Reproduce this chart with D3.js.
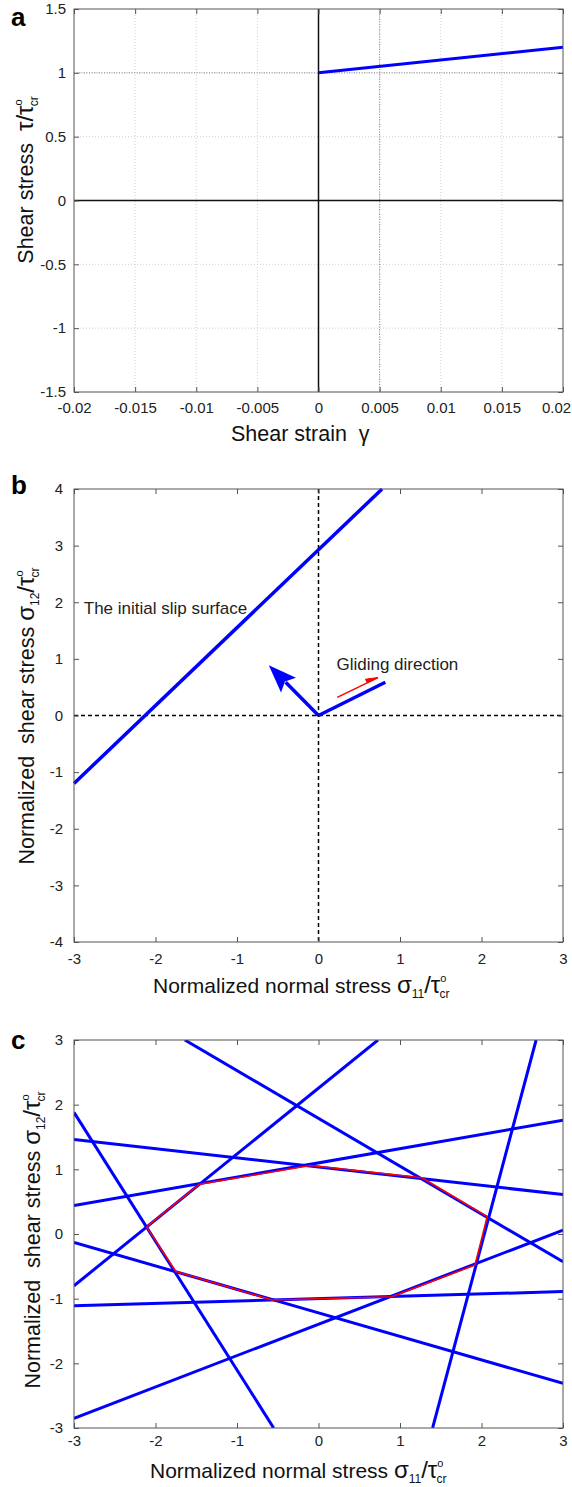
<!DOCTYPE html>
<html><head><meta charset="utf-8">
<script src="https://cdn.jsdelivr.net/npm/d3@7"></script>
<style>body{margin:0;background:#fff} text{font-family:Arial,"Liberation Sans",Helvetica,sans-serif;white-space:pre}</style>
</head><body><svg id="chart" width="572" height="1487"></svg>
<script>
// ---------- Panel a data ----------
const aXTicks = [-0.02, -0.015, -0.01, -0.005, 0, 0.005, 0.01, 0.015, 0.02];
const aYTicks = [-1.5, -1, -0.5, 0, 0.5, 1, 1.5];
const aStrain = [0, 0.02];
const aStress = [1, 1.2];
const aRefStress = 1;
const aRefStrain = 0.005;
// ---------- Panel b data ----------
const bXTicks = [-3, -2, -1, 0, 1, 2, 3];
const bYTicks = [-4, -3, -2, -1, 0, 1, 2, 3, 4];
const bSlipX = [-3, 0.78];
const bSlipY = [-1.2, 4];
const bNormalX = [0, -0.61];
const bNormalY = [0, 0.887];
const bGlideX = [0, 0.82];
const bGlideY = [0, 0.587];
const bRedX = [0.23, 0.73];
const bRedY = [0.32, 0.67];
const bSlipText = {x: -2.88, y: 1.8, label: "The initial slip surface"};
const bGlideText = {x: 0.22, y: 0.8, label: "Gliding direction"};
// ---------- Panel c data ----------
const cXTicks = [-3, -2, -1, 0, 1, 2, 3];
const cYTicks = [-3, -2, -1, 0, 1, 2, 3];
const cLineX1 = [-1.64, -3, -3, -3, -3, 1.40, -3, -3, -3];
const cLineY1 = [3, -0.80, 1.88, 1.46, 0.44, -3, -0.13, -1.11, -2.85];
const cLineX2 = [3, 0.73, -0.55, 3, 3, 2.67, 3, 3, 3];
const cLineY2 = [-0.43, 3, -3, 0.61, 1.76, 3, -2.31, -0.89, 0.06];
const cYieldX = [-2.11, -1.46, -0.10, 1.27, 2.07, 1.92, 0.90, -0.57, -1.75, -2.11];
const cYieldY = [0.11, 0.77, 1.06, 0.87, 0.27, -0.48, -0.97, -1.02, -0.58, 0.11];

const svg = d3.select("#chart");
const BLUE = "#0000ff";
const fmt = d => (d < 0 ? "-" : "") + String(Math.abs(+d.toFixed(4)));

function makeAxes(box, xd, yd, xt, yt, padB, padL) {
  const x = d3.scaleLinear().domain(xd).range([box.l, box.r]);
  const y = d3.scaleLinear().domain(yd).range([box.b, box.t]);
  const draw = () => {
    const g = svg.append("g");
    const gb = g.append("g").attr("transform", `translate(0,${box.b})`)
      .call(d3.axisBottom(x).tickValues(xt).tickSizeInner(-5).tickSizeOuter(0).tickPadding(padB).tickFormat(fmt));
    g.append("g").attr("transform", `translate(0,${box.t})`)
      .call(d3.axisTop(x).tickValues(xt).tickSizeInner(-5).tickSizeOuter(0).tickFormat(""));
    g.append("g").attr("transform", `translate(${box.l},0)`)
      .call(d3.axisLeft(y).tickValues(yt).tickSizeInner(-5).tickSizeOuter(0).tickPadding(padL).tickFormat(fmt));
    g.append("g").attr("transform", `translate(${box.r},0)`)
      .call(d3.axisRight(y).tickValues(yt).tickSizeInner(-5).tickSizeOuter(0).tickFormat(""));
    g.selectAll(".domain").remove();
    g.selectAll(".tick line").attr("stroke", "#555");
    g.selectAll(".tick text").attr("font-size", 15).attr("fill", "#222")
      .attr("font-family", "Arial, 'Liberation Sans', sans-serif");
    g.append("rect").attr("x", box.l).attr("y", box.t).attr("width", box.r - box.l).attr("height", box.b - box.t)
      .attr("fill", "none").attr("stroke", "#555").attr("stroke-width", 1);
    return gb;
  };
  return {x, y, draw};
}

function richLabel(t, prefix, sym, sub) {
  t.append("tspan").text(prefix);
  t.append("tspan").attr("font-size", 24).text(sym);
  if (sub) t.append("tspan").attr("font-size", 12).attr("dy", 5).text(sub);
  t.append("tspan").attr("dy", sub ? -5 : 0).attr("font-size", 24).text("/τ");
  t.append("tspan").attr("font-size", 11).attr("dy", -11).text("o");
  t.append("tspan").attr("font-size", 12).attr("dx", -7).attr("dy", 16).text("cr");
}

function letter(txt, yb) {
  svg.append("text").attr("x", 11).attr("y", yb).attr("font-size", 26).attr("font-weight", "bold").attr("fill", "#000").text(txt);
}

// ================= Panel a =================
{
  const box = {l: 74, r: 563, t: 9, b: 392};
  const A = makeAxes(box, [-0.02, 0.02], [-1.5, 1.5], aXTicks, aYTicks, 10, 8);
  const {x, y} = A;
  const grid = svg.append("g").attr("stroke", "#d0d0d0").attr("stroke-width", 1).attr("stroke-dasharray", "1,2");
  aXTicks.slice(1, -1).forEach(v => grid.append("line").attr("x1", x(v)).attr("x2", x(v)).attr("y1", box.t).attr("y2", box.b));
  aYTicks.slice(1, -1).forEach(v => grid.append("line").attr("x1", box.l).attr("x2", box.r).attr("y1", y(v)).attr("y2", y(v)));
  const ref = svg.append("g").attr("stroke", "#888").attr("stroke-width", 1).attr("stroke-dasharray", "1,1.5");
  ref.append("line").attr("x1", box.l).attr("x2", box.r).attr("y1", y(aRefStress)).attr("y2", y(aRefStress));
  ref.append("line").attr("x1", x(aRefStrain)).attr("x2", x(aRefStrain)).attr("y1", box.t).attr("y2", box.b);
  svg.append("line").attr("x1", box.l).attr("x2", box.r).attr("y1", y(0)).attr("y2", y(0)).attr("stroke", "#111").attr("stroke-width", 1.5);
  svg.append("line").attr("x1", x(0)).attr("x2", x(0)).attr("y1", box.t).attr("y2", box.b).attr("stroke", "#111").attr("stroke-width", 1.5);
  svg.append("path").datum(aStrain.map((d, i) => [d, aStress[i]]))
    .attr("d", d3.line().x(d => x(d[0])).y(d => y(d[1]))).attr("fill", "none").attr("stroke", BLUE).attr("stroke-width", 3);
  const gb = A.draw();
  gb.selectAll(".tick text").filter(d => d === 0.02).attr("dx", -7);
  svg.append("text").attr("x", 231).attr("y", 441).attr("font-size", 21.5).attr("fill", "#111").text("Shear strain  γ");
  const yl = svg.append("text").attr("transform", "translate(33,180) rotate(-90)").attr("text-anchor", "middle").attr("font-size", 21.5).attr("fill", "#111");
  richLabel(yl, "Shear stress  ", "τ", null);
  letter("a", 26);
}

// ================= Panel b =================
{
  const box = {l: 74, r: 563, t: 489, b: 942};
  const B = makeAxes(box, [-3, 3], [-4, 4], bXTicks, bYTicks, 11, 11);
  const {x, y} = B;
  const dash = svg.append("g").attr("stroke", "#000").attr("stroke-width", 1.5).attr("stroke-dasharray", "4,3");
  dash.append("line").attr("x1", x(0)).attr("x2", x(0)).attr("y1", box.t).attr("y2", box.b);
  dash.append("line").attr("x1", box.l).attr("x2", box.r).attr("y1", y(0)).attr("y2", y(0));
  const line = d3.line().x(d => x(d[0])).y(d => y(d[1]));
  svg.append("path").datum(bSlipX.map((d, i) => [d, bSlipY[i]])).attr("d", line)
    .attr("fill", "none").attr("stroke", BLUE).attr("stroke-width", 3.5);
  svg.append("path").datum(bGlideX.map((d, i) => [d, bGlideY[i]])).attr("d", line)
    .attr("fill", "none").attr("stroke", BLUE).attr("stroke-width", 3.5);
  // normal arrow
  const p0 = [x(bNormalX[0]), y(bNormalY[0])], p1 = [x(bNormalX[1]), y(bNormalY[1])];
  const dx = p1[0] - p0[0], dy = p1[1] - p0[1], L = Math.hypot(dx, dy);
  const ux = dx / L, uy = dy / L, hl = 28, hw = 10.5;
  const base = [p1[0] - ux * hl, p1[1] - uy * hl];
  svg.append("line").attr("x1", p0[0]).attr("y1", p0[1]).attr("x2", base[0] + ux * 4).attr("y2", base[1] + uy * 4)
    .attr("stroke", BLUE).attr("stroke-width", 3.5);
  svg.append("polygon").attr("points", [p1, [base[0] - uy * hw, base[1] + ux * hw], [base[0] + ux * 5, base[1] + uy * 5], [base[0] + uy * hw, base[1] - ux * hw]].map(p => p.join(",")).join(" "))
    .attr("fill", BLUE);
  // red gliding arrow
  const r0 = [x(bRedX[0]), y(bRedY[0])], r1 = [x(bRedX[1]), y(bRedY[1])];
  const rdx = r1[0] - r0[0], rdy = r1[1] - r0[1], rL = Math.hypot(rdx, rdy);
  const rux = rdx / rL, ruy = rdy / rL;
  svg.append("line").attr("x1", r0[0]).attr("y1", r0[1]).attr("x2", r1[0]).attr("y2", r1[1]).attr("stroke", "#ff0000").attr("stroke-width", 1.5);
  const rb = [r1[0] - rux * 12, r1[1] - ruy * 12];
  svg.append("polygon").attr("points", [r1, [rb[0] + ruy * 4, rb[1] - rux * 4], [rb[0], rb[1]]].map(p => p.join(",")).join(" "))
    .attr("fill", "#ff0000").attr("stroke", "#ff0000").attr("stroke-width", 1);
  svg.append("text").attr("x", x(bSlipText.x)).attr("y", y(bSlipText.y)).attr("font-size", 17).attr("fill", "#222").text(bSlipText.label);
  svg.append("text").attr("x", x(bGlideText.x)).attr("y", y(bGlideText.y)).attr("font-size", 17).attr("fill", "#222").text(bGlideText.label);
  B.draw();
  const xl = svg.append("text").attr("x", 153).attr("y", 993).attr("font-size", 21).attr("fill", "#111");
  richLabel(xl, "Normalized normal stress ", "σ", "11");
  const yl = svg.append("text").attr("transform", "translate(34,716) rotate(-90)").attr("text-anchor", "middle").attr("font-size", 21.5).attr("fill", "#111");
  richLabel(yl, "Normalized  shear stress ", "σ", "12");
  letter("b", 494);
}

// ================= Panel c =================
{
  const box = {l: 74, r: 563, t: 1040, b: 1428};
  const C = makeAxes(box, [-3, 3], [-3, 3], cXTicks, cYTicks, 7, 11);
  const {x, y} = C;
  svg.append("clipPath").attr("id", "clipc").append("rect")
    .attr("x", box.l).attr("y", box.t).attr("width", box.r - box.l).attr("height", box.b - box.t);
  const g = svg.append("g").attr("clip-path", "url(#clipc)");
  cLineX1.forEach((v, i) => {
    g.append("line").attr("x1", x(v)).attr("y1", y(cLineY1[i])).attr("x2", x(cLineX2[i])).attr("y2", y(cLineY2[i]))
      .attr("stroke", BLUE).attr("stroke-width", 3);
  });
  g.append("path").datum(cYieldX.map((d, i) => [d, cYieldY[i]]))
    .attr("d", d3.line().x(d => x(d[0])).y(d => y(d[1])))
    .attr("fill", "none").attr("stroke", "#ff0000").attr("stroke-width", 1.5).attr("stroke-linejoin", "round");
  C.draw();
  const xl = svg.append("text").attr("x", 150).attr("y", 1478).attr("font-size", 21).attr("fill", "#111");
  richLabel(xl, "Normalized normal stress ", "σ", "11");
  const yl = svg.append("text").attr("transform", "translate(40,1240) rotate(-90)").attr("text-anchor", "middle").attr("font-size", 21.5).attr("fill", "#111");
  richLabel(yl, "Normalized  shear stress ", "σ", "12");
  letter("c", 1049);
}
</script></body></html>
